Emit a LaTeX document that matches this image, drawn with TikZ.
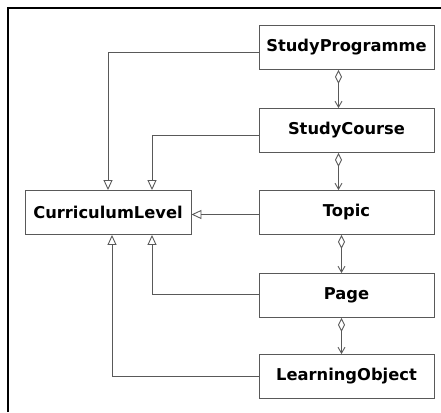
\documentclass[tikz,border=0pt]{standalone}
\usepackage{fontspec}
\setmainfont{DejaVu Sans}
\usetikzlibrary{arrows.meta}

\begin{document}
\begin{tikzpicture}[x=1pt,y=-1pt,
    class/.style={draw=black!65,line width=0.9pt,minimum width=175pt,minimum height=44pt,inner sep=0pt,font=\fontsize{16.3}{19}\selectfont\bfseries},
    gen/.style={draw=black!65,line width=0.9pt,-{Triangle[open,length=10pt,width=9pt]}},
    agg/.style={draw=black!65,line width=0.9pt,{Diamond[open,length=14pt,width=7pt]}-{Straight Barb[length=6pt,width=7pt]}}]
  \useasboundingbox (0,0) rectangle (441,412);
  \draw[line width=2.2pt] (8,412) -- (8,8) -- (441,8);

  \node[class] (sp) at (346.5,47.5) {StudyProgramme};
  \node[class] (sc) at (346.5,130.5) {StudyCourse};
  \node[class] (topic) at (346.5,212.5) {Topic};
  \node[class] (page) at (346.5,295.5) {Page};
  \node[class] (lo) at (346.5,376.5) {LearningObject};
  \node[class,minimum width=166pt] (cl) at (108,212.5) {CurriculumLevel};

  % generalisations
  \draw[gen] ([yshift=-5pt]sp.west) -| (cl.north);
  \draw[gen] ([yshift=-5pt]sc.west) -| ([xshift=44pt]cl.north);
  \draw[gen] ([yshift=-2pt]topic.west) -- ([yshift=-2pt]cl.east);
  \draw[gen] ([yshift=1pt]page.west) -| ([xshift=44pt]cl.south);
  \draw[gen] (lo.west) -| ([xshift=4pt]cl.south);

  % aggregations
  \draw[agg] ([xshift=-8pt]sp.south) -- ([xshift=-8pt]sc.north);
  \draw[agg] ([xshift=-8pt]sc.south) -- ([xshift=-8pt]topic.north);
  \draw[agg] ([xshift=-5pt]topic.south) -- ([xshift=-5pt]page.north);
  \draw[agg] ([xshift=-5pt]page.south) -- ([xshift=-5pt]lo.north);
\end{tikzpicture}
\end{document}
